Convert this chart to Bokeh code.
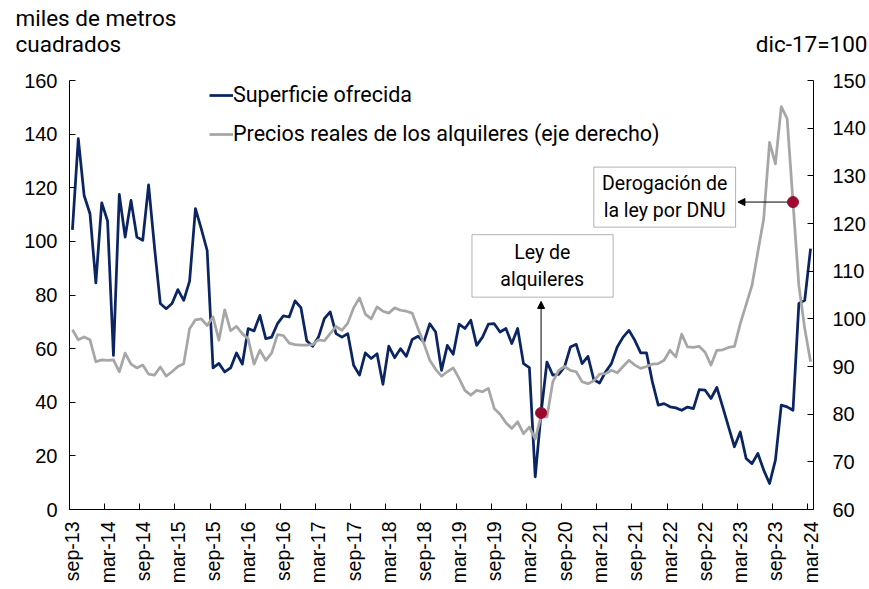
import math
from bokeh.plotting import figure
from bokeh.layouts import column
from bokeh.models import (Range1d, LinearAxis, FixedTicker, Label, Legend, LegendItem,
                          BoxAnnotation, Arrow, NormalHead)
from bokeh.embed import file_html
from bokeh.resources import INLINE

# ---- data (monthly, sep-13 .. mar-24) ----
superficie = [104.3, 138.3, 117.1, 110.3, 84.5, 114.4, 107.6, 57.5, 117.5, 101.6,
              115.3, 101.6, 100.4, 121.1, 98.0, 76.8, 74.9, 76.8, 82.0, 78.0,
              85.2, 112.2, 104.7, 96.6, 52.8, 54.5, 51.3, 52.8, 58.4, 54.2,
              67.5, 66.6, 72.4, 63.7, 64.3, 69.3, 72.2, 71.8, 77.8, 75.3,
              62.9, 60.9, 64.3, 71.2, 73.7, 65.6, 64.3, 65.6, 53.8, 50.1,
              58.4, 56.3, 58.1, 46.7, 60.9, 56.6, 60.0, 57.1, 63.4, 64.6,
              62.5, 69.3, 66.2, 51.9, 61.2, 57.9, 69.1, 67.5, 70.6, 61.2,
              64.3, 69.1, 69.3, 66.2, 67.5, 61.9, 67.5, 54.4, 52.9, 12.2,
              36.0, 55.0, 50.1, 50.4, 53.2, 60.6, 61.6, 54.4, 57.1, 48.4,
              47.2, 51.3, 54.4, 60.6, 64.3, 66.8, 63.1, 58.4, 58.4, 47.6,
              38.9, 39.5, 38.3, 37.9, 37.0, 38.2, 37.6, 44.7, 44.5, 41.4,
              45.5, 38.3, 30.8, 23.4, 28.9, 19.0, 17.1, 20.9, 14.7, 9.7,
              18.4, 38.9, 38.3, 37.0, 76.8, 78.0, 97.3]

precios = [97.7, 95.6, 96.2, 95.6, 91.0, 91.4, 91.3, 91.4, 88.9, 92.8,
           90.5, 89.7, 90.3, 88.4, 88.2, 89.9, 88.0, 88.9, 90.0, 90.6,
           97.9, 99.8, 100.0, 98.6, 100.4, 95.5, 101.9, 97.5, 98.4, 96.9,
           95.8, 90.5, 93.4, 91.3, 92.8, 96.7, 96.5, 94.9, 94.6, 94.5,
           94.5, 94.6, 95.6, 95.4, 96.9, 98.4, 97.6, 99.1, 102.3, 104.4,
           101.0, 100.0, 102.5, 101.6, 101.2, 102.3, 101.8, 101.6, 101.2, 97.9,
           94.8, 91.3, 89.4, 88.0, 88.9, 89.7, 87.5, 85.0, 84.0, 85.0,
           84.7, 85.4, 81.2, 80.0, 78.2, 77.0, 78.4, 75.9, 77.3, 74.8,
           79.6, 79.4, 86.8, 89.2, 90.0, 89.2, 88.9, 86.8, 86.4, 87.0,
           88.4, 88.5, 89.2, 88.7, 90.0, 91.3, 90.3, 89.6, 90.0, 90.5,
           90.6, 91.3, 93.4, 92.0, 96.8, 94.1, 94.0, 94.2, 93.0, 90.3,
           93.4, 93.5, 94.0, 94.2, 99.0, 103.0, 107.0, 114.0, 121.0, 137.0,
           132.5, 144.5, 142.0, 124.5, 107.0, 98.0, 91.0]

tick_labels = ["sep-13", "mar-14", "sep-14", "mar-15", "sep-15", "mar-16", "sep-16",
               "mar-17", "sep-17", "mar-18", "sep-18", "mar-19", "sep-19", "mar-20",
               "sep-20", "mar-21", "sep-21", "mar-22", "sep-22", "mar-23", "sep-23",
               "mar-24"]
left_ticks = [0, 20, 40, 60, 80, 100, 120, 140, 160]
right_ticks = [60, 70, 80, 90, 100, 110, 120, 130, 140, 150]

ley_idx = 80    # Ley de alquileres
dnu_idx = 123   # Derogación por DNU

n = len(superficie)
x = [i + 0.5 for i in range(n)]
x_ticks = [6 * k for k in range(len(tick_labels))]
x_label_pos = [t + 0.5 for t in x_ticks]

BLUE = "#0b2562"
GRAY = "#a6a6a6"
RED = "#9b0a2e"

W = 869
HEAD_H = 64

# ---------------- header with the unit texts ----------------
head = figure(width=W, height=HEAD_H, output_backend="svg", toolbar_location=None,
              x_range=Range1d(0, W), y_range=Range1d(HEAD_H, 0),
              x_axis_location=None, y_axis_location=None, min_border=0)
head.outline_line_color = None
head.grid.visible = False
head.background_fill_color = "white"
head.border_fill_color = "white"
head.add_layout(Label(x=15, y=17, text="miles de metros", text_font="Roboto",
                      text_font_size="22.5px", text_baseline="middle", text_color="black"))
head.add_layout(Label(x=15, y=43, text="cuadrados", text_font="Roboto",
                      text_font_size="22.5px", text_baseline="middle", text_color="black"))
head.add_layout(Label(x=867, y=43, text="dic-17=100", text_font="Roboto",
                      text_font_size="22.5px", text_baseline="middle", text_align="right",
                      text_color="black"))

# ---------------- main chart ----------------
p = figure(width=W, height=589 - HEAD_H, output_backend="svg", toolbar_location=None,
           x_range=Range1d(0, n), y_range=Range1d(left_ticks[0], left_ticks[-1]),
           min_border_left=69, min_border_right=56, min_border_top=80 - HEAD_H,
           min_border_bottom=80)
p.extra_y_ranges = {"right": Range1d(right_ticks[0], right_ticks[-1])}
p.outline_line_color = None
p.xgrid.visible = False
p.ygrid.visible = False
p.background_fill_color = "white"
p.border_fill_color = "white"

# keep the header's frame independent from the chart's frame
for fig in (head, p):
    try:
        fig.frame_align = False
    except Exception:
        pass

ax_r = LinearAxis(y_range_name="right")
p.add_layout(ax_r, "right")
ax_lab = LinearAxis()
p.add_layout(ax_lab, "below")

# bottom axis: tick marks at month boundaries, labels centred on the months
ax_b = p.xaxis[0]
ax_b.ticker = FixedTicker(ticks=x_ticks)
ax_b.major_label_overrides = {t: "" for t in x_ticks}
ax_b.major_label_standoff = 0

ax_lab.ticker = FixedTicker(ticks=x_label_pos)
ax_lab.major_label_overrides = {t: lab for t, lab in zip(x_label_pos, tick_labels)}
ax_lab.major_label_orientation = math.pi / 2
ax_lab.axis_line_color = None
ax_lab.major_tick_line_color = None
ax_lab.minor_tick_line_color = None
ax_lab.major_tick_in = 0
ax_lab.major_tick_out = 0
ax_lab.major_label_text_font = "Liberation Sans"
ax_lab.major_label_text_font_size = "19.5px"
ax_lab.major_label_text_color = "black"
ax_lab.major_label_standoff = 12

p.yaxis[0].ticker = FixedTicker(ticks=left_ticks)
ax_r.ticker = FixedTicker(ticks=right_ticks)

for ax in [ax_b, p.yaxis[0], ax_r]:
    ax.axis_line_color = "black"
    ax.axis_line_width = 1
    ax.major_tick_line_color = "black"
    ax.major_tick_in = 6
    ax.major_tick_out = 0
    ax.minor_tick_line_color = None
    ax.major_label_text_font = "Liberation Sans"
    ax.major_label_text_color = "black"
p.yaxis[0].major_label_text_font_size = "20px"
ax_r.major_label_text_font_size = "20px"
p.yaxis[0].major_label_standoff = 12
ax_r.major_label_standoff = 19

r1 = p.line(x, superficie, line_color=BLUE, line_width=2.75, line_join="round")
r2 = p.line(x, precios, line_color=GRAY, line_width=2.75, line_join="round",
            y_range_name="right")

legend = Legend(items=[LegendItem(label="Superficie ofrecida", renderers=[r1]),
                       LegendItem(label="Precios reales de los alquileres (eje derecho)", renderers=[r2])],
                location=(140, 363), orientation="vertical",
                label_text_font="Roboto", label_text_font_size="21.5px", label_text_color="black",
                glyph_width=24, glyph_height=24, label_height=24, label_standoff=0,
                spacing=14, padding=0, margin=0, border_line_color=None,
                background_fill_alpha=0)
p.add_layout(legend)

# annotation boxes
box1 = BoxAnnotation(left=68.7, right=92.8, bottom=79.2, top=102.5, fill_color="white",
                     fill_alpha=1, line_color="black", line_width=1)
box2 = BoxAnnotation(left=89.5, right=113.7, bottom=105.3, top=127.7, fill_color="white",
                     fill_alpha=1, line_color="black", line_width=1)
p.add_layout(box1)
p.add_layout(box2)
p.add_layout(Label(x=80.7, y=90.8, text="Ley de\nalquileres", text_align="center",
                   text_baseline="middle", text_font="Roboto", text_font_size="19.5px",
                   text_color="black"))
p.add_layout(Label(x=101.6, y=116.5, text="Derogación de\nla ley por DNU", text_align="center",
                   text_baseline="middle", text_font="Roboto", text_font_size="19.5px",
                   text_color="black"))

p.add_layout(Arrow(x_start=x[ley_idx], y_start=superficie[ley_idx], x_end=x[ley_idx], y_end=77.6,
                   end=NormalHead(size=7, fill_color="black", line_color="black"),
                   line_color="black", line_width=1))
p.add_layout(Arrow(x_start=x[dnu_idx], y_start=precios[dnu_idx], x_end=114.1, y_end=precios[dnu_idx],
                   y_range_name="right",
                   end=NormalHead(size=7, fill_color="black", line_color="black"),
                   line_color="black", line_width=1))

d1 = p.scatter([x[ley_idx]], [superficie[ley_idx]], size=11, fill_color=RED, line_color=RED)
d2 = p.scatter([x[dnu_idx]], [precios[dnu_idx]], size=11, fill_color=RED, line_color=RED,
               y_range_name="right")
d1.level = "overlay"
d2.level = "overlay"

layout = column(head, p, spacing=0)
open("out.html", "w").write(file_html(layout, INLINE))
